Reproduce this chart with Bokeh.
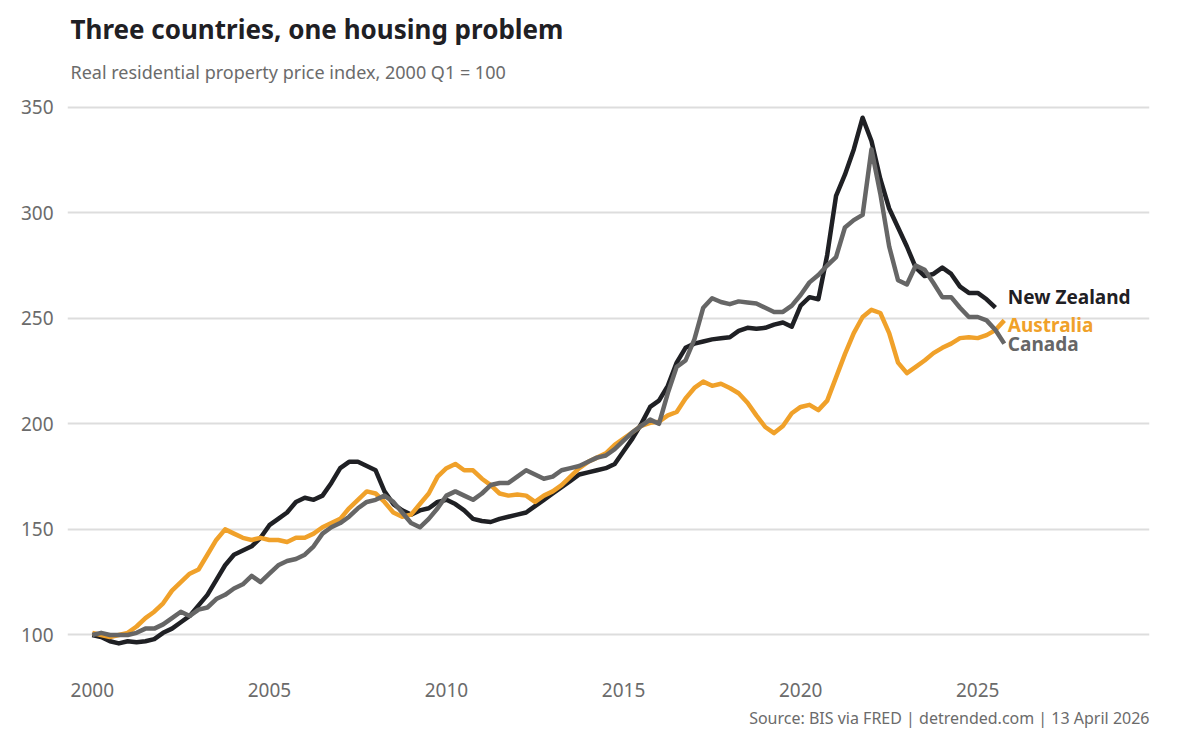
from bokeh.plotting import figure
from bokeh.models import Title, FixedTicker
from bokeh.core.properties import value
from bokeh.embed import file_html
from bokeh.resources import INLINE

start_year = 2000
nz = [100, 99, 97, 96, 97, 96.5, 97, 98, 101, 103, 106, 109, 114, 119, 126, 133,
      138, 140, 142, 146, 152, 155, 158, 163, 165, 164, 166, 172, 179, 182, 182, 180,
      178, 168, 162, 159, 157, 159, 160, 163, 164, 162, 159, 155, 154, 153.5, 155, 156,
      157, 158, 161, 164, 167, 170, 173, 176, 177, 178, 179, 181, 187, 193, 200, 208,
      211, 218, 229, 236, 238, 239, 240, 240.5, 241, 244, 245.5, 245, 245.5, 247, 248, 246,
      256, 260, 259, 280, 308, 318, 330, 345, 334, 316, 302, 293, 284, 274, 270, 271,
      274, 271, 265, 262, 262, 259, 255]
au = [101, 100, 99, 100, 101, 104, 108, 111, 115, 121, 125, 129, 131, 138, 145, 150,
      148, 146, 145, 146, 145, 145, 144, 146, 146, 148, 151, 153, 155, 160, 164, 168,
      167, 163, 158, 156, 157, 162, 167, 175, 179, 181, 178, 178, 174, 171, 167, 166,
      166.5, 166, 163, 166, 168, 171, 175, 179, 182, 184, 186, 190, 193, 196, 199, 200.5,
      201, 204, 205.6, 212, 217, 220, 218, 219, 217, 214.5, 210, 204, 198.5, 195.6, 199, 205,
      208, 209, 206.5, 211, 222, 233, 243, 250.6, 254, 252.5, 243, 229, 224, 227, 230, 233.5,
      236, 238, 240.6, 241, 240.6, 242, 244.4, 249]
ca = [100, 101, 100, 100, 100, 101, 103, 103, 105, 108, 111, 109, 112, 113, 117, 119,
      122, 124, 128, 125, 129, 133, 135, 136, 138, 142, 148, 151, 153, 156, 160, 163,
      164, 166, 163, 158, 153, 151, 155, 160, 166, 168, 166, 164, 167, 171, 172, 172,
      175, 178, 176, 174, 175, 178, 179, 180, 182, 184, 185, 188, 192, 196, 199, 202,
      200, 214.6, 227, 230, 240, 255, 259.5, 257.7, 256.7, 258, 257.5, 257, 255, 253, 253, 256,
      261, 267, 270.5, 275, 279, 293, 296.5, 299, 330, 309, 284, 268, 266, 275, 273, 266.7,
      260, 260, 255, 250.6, 250.6, 249, 244.4, 238]
series = [("New Zealand", nz, "#1f2024", 5), ("Australia", au, "#f0a12a", -2), ("Canada", ca, "#666666", 0)]
x_ticks = [2000, 2005, 2010, 2015, 2020, 2025]
y_ticks = [100, 150, 200, 250, 300, 350]

FONT = "Noto Sans"
p = figure(frame_width=1082, frame_height=570, output_backend="svg", toolbar_location=None,
           x_range=(1999.3, 2029.85), y_range=(86, 356),
           min_border_left=67, min_border_right=38, min_border_top=20, min_border_bottom=10)
p.outline_line_color = None
p.background_fill_color = "white"
p.xgrid.grid_line_color = None
p.ygrid.grid_line_color = "#dddddd"
p.ygrid.grid_line_width = 2
p.xaxis.ticker = FixedTicker(ticks=x_ticks)
p.yaxis.ticker = FixedTicker(ticks=y_ticks)
for ax in (p.xaxis, p.yaxis):
    ax.axis_line_color = None
    ax.major_tick_line_color = None
    ax.minor_tick_line_color = None
    ax.major_label_text_font = FONT
    ax.major_label_text_font_size = "19px"
    ax.major_label_text_color = "#6b6b6b"
p.xaxis.major_label_standoff = 12
p.yaxis.major_label_standoff = 8

for name, vals, color, off in series:
    xs = [start_year + i / 4 for i in range(len(vals))]
    p.line(xs, vals, line_color=color, line_width=4.5, line_join="round")
    p.text(x=[2025.85], y=[vals[-1] + off], text=[name], text_color=color,
           text_font=value(FONT), text_font_size="19px", text_font_style="bold",
           text_baseline="middle", text_align="left")

p.add_layout(Title(text="Source: BIS via FRED | detrended.com | 13 April 2026", align="right",
                   text_font=FONT, text_font_size="16px", text_color="#6b6b6b",
                   text_font_style="normal", offset=0), "below")
p.add_layout(Title(text="Real residential property price index, 2000 Q1 = 100", align="left",
                   text_font=FONT, text_font_size="18px", text_color="#6b6b6b",
                   text_font_style="normal", offset=3, standoff=22), "above")
p.add_layout(Title(text="Three countries, one housing problem", align="left",
                   text_font=FONT, text_font_size="26px", text_color="#1f2024",
                   text_font_style="bold", offset=3, standoff=0), "above")
p.add_layout(Title(text=" ", text_font_size="6px", standoff=0), "above")

open("out.html", "w").write(file_html(p, INLINE))
